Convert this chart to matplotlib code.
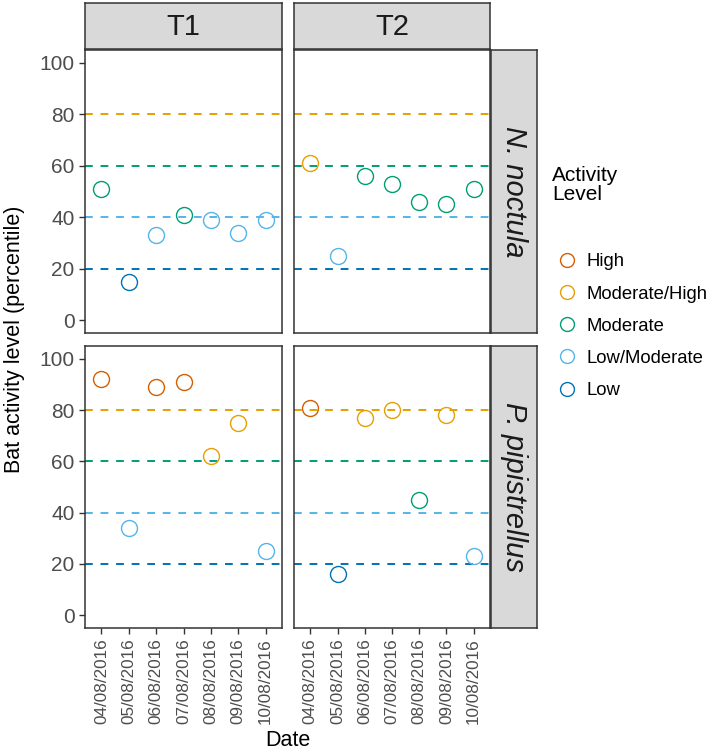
import matplotlib.pyplot as plt
from matplotlib.lines import Line2D

plt.rcParams['font.family'] = ['Liberation Sans', 'DejaVu Sans']

dates = ['04/08/2016', '05/08/2016', '06/08/2016', '07/08/2016',
         '08/08/2016', '09/08/2016', '10/08/2016']
transects = ['T1', 'T2']
species = ['N. noctula', 'P. pipistrellus']

levels = ['High', 'Moderate/High', 'Moderate', 'Low/Moderate', 'Low']
level_colors = ['#D55E00', '#E69F00', '#009E73', '#56B4E9', '#0072B2']
thresholds = [80, 60, 40, 20]
threshold_colors = ['#E69F00', '#009E73', '#56B4E9', '#0072B2']

# percentile values per species / transect
noctula_t1 = [51, 15, 33, 41, 39, 34, 39]
noctula_t2 = [61, 25, 56, 53, 46, 45, 51]
pip_t1 = [92, 34, 89, 91, 62, 75, 25]
pip_t2 = [81, 16, 77, 80, 45, 78, 23]

noctula_t1_lvl = ['Moderate', 'Low', 'Low/Moderate', 'Moderate', 'Low/Moderate', 'Low/Moderate', 'Low/Moderate']
noctula_t2_lvl = ['Moderate/High', 'Low/Moderate', 'Moderate', 'Moderate', 'Moderate', 'Moderate', 'Moderate']
pip_t1_lvl = ['High', 'Low/Moderate', 'High', 'High', 'Moderate/High', 'Moderate/High', 'Low/Moderate']
pip_t2_lvl = ['High', 'Low', 'Moderate/High', 'Moderate/High', 'Moderate', 'Moderate/High', 'Low/Moderate']

panels = {
    (0, 0): (noctula_t1, noctula_t1_lvl),
    (0, 1): (noctula_t2, noctula_t2_lvl),
    (1, 0): (pip_t1, pip_t1_lvl),
    (1, 1): (pip_t2, pip_t2_lvl),
}

W, H = 709, 754
fig = plt.figure(figsize=(W / 100, H / 100), dpi=100)

def px_axes(x0, y0, x1, y1):
    return fig.add_axes([x0 / W, 1 - y1 / H, (x1 - x0) / W, (y1 - y0) / H])

col_x = [(85, 282), (294, 490)]
row_y = [(50, 333), (346, 628)]
color_of = dict(zip(levels, level_colors))
border = '#333333'

for (r, c), (vals, lvls) in panels.items():
    x0, x1 = col_x[c]
    y0, y1 = row_y[r]
    ax = px_axes(x0, y0, x1, y1)
    for t, tc in zip(thresholds, threshold_colors):
        ax.axhline(t, color=tc, ls=(0, (4, 4)), lw=1.4, zorder=1)
    xs = range(1, len(dates) + 1)
    for x, v, lv in zip(xs, vals, lvls):
        ax.plot(x, v, 'o', mfc='none', mec=color_of[lv], ms=11.5, mew=1.0, zorder=3)
    ax.set_xlim(0.4, 7.6)
    ax.set_ylim(-5, 105)
    for s in ax.spines.values():
        s.set_color(border)
        s.set_linewidth(1.1)
    ax.tick_params(colors=border, length=4, width=1, labelcolor='#4D4D4D')
    if c == 0:
        ax.set_yticks([0, 20, 40, 60, 80, 100])
        ax.tick_params(axis='y', labelsize=15)
    else:
        ax.set_yticks([])
    if r == 1:
        ax.set_xticks(list(xs))
        ax.set_xticklabels(dates, rotation=90, fontsize=12.3)
    else:
        ax.set_xticks([])

    # strips
    if r == 0:
        sx = px_axes(x0, 3, x1, 49)
        sx.set_facecolor('#D9D9D9')
        sx.set_xticks([]); sx.set_yticks([])
        for s in sx.spines.values():
            s.set_color(border); s.set_linewidth(1.1)
        sx.text(0.5, 0.47, transects[c], ha='center', va='center',
                fontsize=21, color='#1A1A1A', transform=sx.transAxes)
    if c == 1:
        sy = px_axes(491, y0, 537, y1)
        sy.set_facecolor('#D9D9D9')
        sy.set_xticks([]); sy.set_yticks([])
        for s in sy.spines.values():
            s.set_color(border); s.set_linewidth(1.1)
        sy.text(0.5, 0.5, species[r], ha='center', va='center', rotation=270,
                fontsize=21, style='italic', color='#1A1A1A', transform=sy.transAxes)

fig.text(15 / W, 1 - 339 / H, 'Bat activity level (percentile)', rotation=90,
         ha='center', va='center', fontsize=15.5)
fig.text(288 / W, 1 - 740 / H, 'Date', ha='center', va='center', fontsize=15.5)

# legend: title placed separately, ggplot leaves a wide gap before the keys
fig.text(552 / W, 1 - 166 / H, 'Activity\nLevel', ha='left', va='top',
         fontsize=15, linespacing=1.0)
handles = [Line2D([], [], ls='none', marker='o', mfc='none', mec=col, ms=10, mew=1.0)
           for col in level_colors]
fig.legend(handles, levels, loc='upper left',
           bbox_to_anchor=(546 / W, 1 - 246 / H), frameon=False,
           fontsize=13.3, labelspacing=0.82,
           handletextpad=0.3, handlelength=1.5, borderaxespad=0)

fig.savefig('out.png', dpi=100)
